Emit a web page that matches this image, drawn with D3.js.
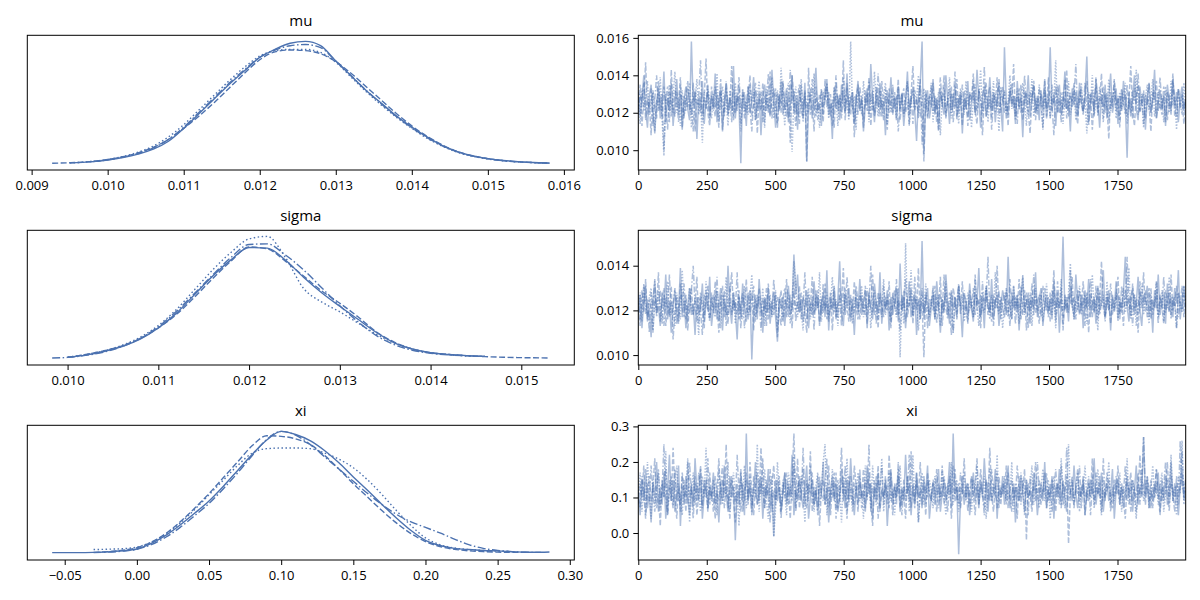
<!DOCTYPE html>
<html><head><meta charset="utf-8">
<script src="https://cdn.jsdelivr.net/npm/d3@7"></script>
<style>
body{margin:0;background:#fff}
svg{display:block}
text{font-family:'Open Sans',sans-serif;fill:#000}
</style>
</head><body>
<svg id="chart" width="1200" height="600"></svg>
<script>
// ---------- data ----------
const params = ["mu", "sigma", "xi"];
const nDraws = 2000;

// sample min / max per parameter
const muRange = [0.00927, 0.01581];
const sigmaRange = [0.00983, 0.01531];
const xiRange = [-0.0587, 0.2859];

// KDE grids and relative densities per chain (solid, dashed, dotted, dash-dot)
const muKdeX = [0.00927,0.0095,0.0098,0.0100,0.0102,0.0104,0.0106,0.0108,0.0110,0.0112,0.0114,0.0116,0.0118,0.0120,0.0122,0.0124,0.0126,0.0128,0.0130,0.0132,0.0134,0.0136,0.0138,0.0140,0.0142,0.0144,0.0146,0.0148,0.0150,0.0152,0.0154,0.0156,0.01581];
const muKde = [
 [null,0.008,0.018,0.032,0.052,0.080,0.120,0.185,0.29,0.41,0.53,0.65,0.76,0.87,0.935,0.985,1.0,0.965,0.84,0.72,0.60,0.495,0.39,0.30,0.22,0.15,0.10,0.065,0.043,0.028,0.018,0.011,0.006],
 [0.005,0.009,0.02,0.036,0.058,0.09,0.135,0.20,0.29,0.39,0.50,0.62,0.74,0.85,0.915,0.93,0.925,0.90,0.835,0.74,0.63,0.52,0.41,0.31,0.225,0.155,0.10,0.066,0.043,0.027,0.016,0.010,0.006],
 [null,0.008,0.02,0.036,0.06,0.095,0.145,0.22,0.32,0.44,0.56,0.68,0.79,0.88,0.925,0.935,0.935,0.91,0.83,0.71,0.59,0.48,0.38,0.29,0.21,0.145,0.095,0.062,0.04,0.026,0.016,0.010,0.006],
 [null,null,0.018,0.033,0.055,0.085,0.13,0.20,0.30,0.42,0.54,0.66,0.77,0.87,0.93,0.965,0.975,0.95,0.84,0.72,0.60,0.49,0.385,0.295,0.215,0.15,0.098,0.064,0.042,0.027,0.017,0.011,0.006]
];
const sigmaKdeX = [0.00983,0.0100,0.0102,0.0104,0.0106,0.0108,0.0110,0.0112,0.0114,0.0116,0.0118,0.0120,0.0122,0.0124,0.0126,0.0128,0.0130,0.0132,0.0134,0.0136,0.0138,0.0140,0.0142,0.0144,0.0146,0.0148,0.0150,0.0152,0.01531];
const sigmaKde = [
 [null,0.012,0.03,0.06,0.10,0.16,0.25,0.37,0.52,0.67,0.80,0.90,0.895,0.80,0.66,0.535,0.425,0.32,0.215,0.13,0.08,0.05,0.035,0.026,0.02,null,null,null,null],
 [null,0.014,0.035,0.065,0.105,0.165,0.25,0.36,0.50,0.65,0.79,0.905,0.89,0.79,0.67,0.55,0.45,0.34,0.22,0.135,0.08,0.05,0.035,0.025,0.018,0.013,0.01,0.008,0.007],
 [null,0.014,0.035,0.065,0.11,0.175,0.27,0.40,0.56,0.72,0.86,0.97,0.99,0.82,0.57,0.46,0.38,0.29,0.20,0.13,0.08,0.05,0.035,0.025,0.02,null,null,null,null],
 [0.007,0.012,0.028,0.055,0.10,0.165,0.26,0.385,0.53,0.68,0.82,0.925,0.93,0.84,0.72,0.575,0.43,0.30,0.19,0.115,0.07,0.045,0.032,0.025,0.02,null,null,null,null]
];
const xiKdeX = [-0.0587,-0.05,-0.04,-0.03,-0.02,-0.01,0.00,0.01,0.02,0.03,0.04,0.05,0.06,0.07,0.08,0.09,0.10,0.11,0.12,0.13,0.14,0.15,0.16,0.17,0.18,0.19,0.20,0.21,0.22,0.23,0.24,0.25,0.26,0.27,0.28,0.2859];
const xiKde = [
 [0.010,0.010,0.010,0.012,0.016,0.025,0.04,0.085,0.15,0.235,0.33,0.43,0.55,0.68,0.81,0.925,0.995,0.97,0.92,0.84,0.74,0.625,0.515,0.40,0.29,0.19,0.11,0.068,0.045,0.035,0.028,0.024,0.018,0.013,0.013,0.015],
 [null,null,null,0.012,0.018,0.03,0.05,0.095,0.165,0.26,0.37,0.49,0.62,0.75,0.88,0.96,0.955,0.935,0.89,0.80,0.69,0.57,0.46,0.35,0.25,0.165,0.10,0.06,0.037,0.025,0.018,0.014,0.012,0.012,null,null],
 [null,null,null,0.035,0.038,0.042,0.055,0.095,0.16,0.25,0.36,0.48,0.60,0.72,0.82,0.855,0.86,0.86,0.855,0.82,0.77,0.70,0.60,0.48,0.35,0.23,0.13,0.075,0.048,0.035,0.028,0.022,0.018,null,null,null],
 [null,null,null,0.010,0.014,0.022,0.038,0.075,0.135,0.215,0.31,0.41,0.53,0.66,0.80,0.93,0.995,0.965,0.89,0.79,0.69,0.59,0.49,0.40,0.32,0.26,0.215,0.17,0.12,0.075,0.045,0.028,0.018,0.013,0.012,null]
];

// trace values (thinned, evenly spaced over the 2000 draws), 4 chains each
const muTrace = [
 [0.0131,0.0118,0.0127,0.0140,0.0122,0.0112,0.0129,0.0135,0.0120,0.0109,0.0126,0.0133,0.0117,0.0124,0.0142,0.0115,0.0128,0.0121,0.0136,0.0113,
  0.0125,0.0138,0.0119,0.0130,0.0111,0.0127,0.0134,0.0122,0.0116,0.0158,0.0124,0.0131,0.0106,0.0128,0.0120,0.0137,0.0114,0.0126,0.0132,0.0118,
  0.0129,0.0123,0.0141,0.0115,0.0127,0.0133,0.0110,0.0125,0.0136,0.0119,0.0128,0.0121,0.0145,0.0117,0.0130,0.0124,0.0093,0.0132,0.0126,0.0113,
  0.0134,0.0120,0.0127,0.0139,0.0116,0.0123,0.0131,0.0108,0.0128,0.0135,0.0121,0.0125,0.0118,0.0143,0.0126,0.0112,0.0130,0.0122,0.0137,0.0119,
  0.0127,0.0133,0.0115,0.0124,0.0140,0.0120,0.0129,0.0111,0.0132,0.0126,0.0118,0.0136,0.0094,0.0123,0.0130,0.0117,0.0128,0.0144,0.0121,0.0125,
  0.0113,0.0131,0.0127,0.0138,0.0119,0.0124,0.0106,0.0133,0.0122,0.0129,0.0116,0.0135,0.0125,0.0120,0.0141,0.0118,0.0128,0.0131,0.0114,0.0126,
  0.0137,0.0121,0.0129,0.0110,0.0124,0.0133,0.0119,0.0146,0.0127,0.0115,0.0131,0.0123,0.0136,0.0118,0.0126,0.0108,0.0132,0.0124,0.0139,0.0120,
  0.0128,0.0116,0.0134,0.0122,0.0130,0.0113,0.0125,0.0142,0.0119,0.0127,0.0134,0.0121,0.0105,0.0129,0.0136,0.0158,0.0098,0.0126,0.0132,0.0117,
  0.0124,0.0138,0.0120,0.0128,0.0111,0.0133,0.0125,0.0119,0.0140,0.0127,0.0114,0.0130,0.0123,0.0135,0.0118,0.0126,0.0131,0.0109,0.0128,0.0122,
  0.0137,0.0116,0.0125,0.0132,0.0120,0.0143,0.0127,0.0112,0.0129,0.0134,0.0118,0.0124,0.0139,0.0121,0.0130,0.0115,0.0127,0.0136,0.0123,0.0110,
  0.0155,0.0126,0.0119,0.0133,0.0124,0.0129,0.0114,0.0137,0.0122,0.0128,0.0107,0.0131,0.0125,0.0140,0.0118,0.0127,0.0134,0.0120,0.0129,0.0116,
  0.0132,0.0123,0.0138,0.0117,0.0126,0.0155,0.0121,0.0130,0.0113,0.0128,0.0135,0.0119,0.0125,0.0142,0.0122,0.0127,0.0110,0.0133,0.0124,0.0131,
  0.0118,0.0136,0.0126,0.0121,0.0129,0.0150,0.0115,0.0124,0.0132,0.0119,0.0138,0.0127,0.0112,0.0130,0.0123,0.0135,0.0117,0.0128,0.0141,0.0120,
  0.0126,0.0133,0.0114,0.0129,0.0121,0.0137,0.0125,0.0096,0.0131,0.0118,0.0127,0.0140,0.0122,0.0116,0.0134,0.0124,0.0130,0.0111,0.0128,0.0136,
  0.0120,0.0127,0.0143,0.0117,0.0125,0.0132,0.0122,0.0129,0.0113,0.0135,0.0126,0.0119,0.0138,0.0124,0.0131,0.0115,0.0128,0.0134,0.0121,0.0127],
 [0.0122,0.0135,0.0113,0.0128,0.0147,0.0119,0.0126,0.0108,0.0132,0.0124,0.0117,0.0137,0.0121,0.0130,0.0100,0.0127,0.0134,0.0115,0.0143,0.0123,
  0.0118,0.0131,0.0125,0.0139,0.0112,0.0129,0.0121,0.0133,0.0126,0.0119,0.0136,0.0110,0.0127,0.0124,0.0131,0.0116,0.0128,0.0149,0.0120,0.0113,
  0.0134,0.0125,0.0118,0.0130,0.0122,0.0138,0.0111,0.0127,0.0133,0.0119,0.0124,0.0145,0.0116,0.0129,0.0121,0.0135,0.0114,0.0126,0.0131,0.0120,
  0.0127,0.0140,0.0118,0.0124,0.0132,0.0109,0.0128,0.0121,0.0136,0.0115,0.0130,0.0123,0.0142,0.0117,0.0126,0.0133,0.0112,0.0129,0.0120,0.0137,
  0.0124,0.0118,0.0131,0.0104,0.0140,0.0126,0.0113,0.0129,0.0135,0.0121,0.0117,0.0132,0.0094,0.0144,0.0119,0.0127,0.0110,0.0134,0.0122,0.0130,
  0.0126,0.0115,0.0138,0.0123,0.0131,0.0118,0.0127,0.0112,0.0136,0.0124,0.0129,0.0120,0.0148,0.0116,0.0133,0.0125,0.0119,0.0131,0.0107,0.0128,
  0.0135,0.0122,0.0127,0.0117,0.0132,0.0124,0.0139,0.0113,0.0128,0.0120,0.0134,0.0126,0.0118,0.0137,0.0123,0.0129,0.0111,0.0133,0.0125,0.0119,
  0.0131,0.0124,0.0138,0.0116,0.0127,0.0133,0.0120,0.0126,0.0114,0.0130,0.0145,0.0122,0.0128,0.0117,0.0135,0.0121,0.0094,0.0132,0.0118,0.0129,
  0.0123,0.0136,0.0119,0.0127,0.0110,0.0131,0.0125,0.0140,0.0117,0.0128,0.0122,0.0134,0.0115,0.0126,0.0138,0.0120,0.0129,0.0113,0.0132,0.0124,
  0.0118,0.0130,0.0127,0.0141,0.0121,0.0114,0.0133,0.0125,0.0108,0.0129,0.0136,0.0122,0.0127,0.0117,0.0131,0.0124,0.0139,0.0119,0.0128,0.0134,
  0.0120,0.0126,0.0113,0.0132,0.0125,0.0146,0.0118,0.0129,0.0123,0.0135,0.0116,0.0127,0.0131,0.0121,0.0109,0.0128,0.0137,0.0124,0.0119,0.0133,
  0.0126,0.0112,0.0130,0.0122,0.0139,0.0117,0.0128,0.0125,0.0134,0.0120,0.0127,0.0115,0.0131,0.0123,0.0143,0.0118,0.0129,0.0126,0.0136,0.0121,
  0.0114,0.0132,0.0125,0.0119,0.0128,0.0137,0.0122,0.0130,0.0111,0.0127,0.0134,0.0120,0.0126,0.0141,0.0117,0.0129,0.0123,0.0106,0.0131,0.0125,
  0.0138,0.0121,0.0128,0.0116,0.0133,0.0124,0.0130,0.0118,0.0127,0.0145,0.0122,0.0113,0.0129,0.0135,0.0120,0.0126,0.0132,0.0117,0.0128,0.0124,
  0.0110,0.0131,0.0127,0.0137,0.0121,0.0125,0.0119,0.0134,0.0128,0.0116,0.0130,0.0123,0.0141,0.0118,0.0126,0.0133,0.0122,0.0129,0.0114,0.0127],
 [0.0126,0.0114,0.0133,0.0121,0.0128,0.0137,0.0119,0.0125,0.0131,0.0110,0.0127,0.0122,0.0139,0.0116,0.0097,0.0130,0.0124,0.0135,0.0118,0.0129,
  0.0142,0.0120,0.0126,0.0113,0.0132,0.0117,0.0128,0.0123,0.0136,0.0112,0.0129,0.0125,0.0138,0.0119,0.0127,0.0104,0.0131,0.0122,0.0134,0.0126,
  0.0117,0.0130,0.0123,0.0141,0.0115,0.0128,0.0134,0.0120,0.0127,0.0113,0.0132,0.0125,0.0118,0.0136,0.0124,0.0129,0.0110,0.0133,0.0121,0.0127,
  0.0119,0.0135,0.0125,0.0131,0.0116,0.0128,0.0137,0.0122,0.0126,0.0112,0.0134,0.0120,0.0129,0.0139,0.0117,0.0125,0.0132,0.0121,0.0144,0.0127,
  0.0113,0.0130,0.0136,0.0123,0.0099,0.0128,0.0134,0.0119,0.0126,0.0138,0.0115,0.0131,0.0124,0.0120,0.0133,0.0127,0.0141,0.0118,0.0125,0.0112,
  0.0132,0.0123,0.0129,0.0136,0.0117,0.0126,0.0120,0.0134,0.0128,0.0113,0.0130,0.0124,0.0139,0.0121,0.0127,0.0116,0.0158,0.0122,0.0129,0.0111,
  0.0133,0.0126,0.0119,0.0137,0.0124,0.0130,0.0115,0.0128,0.0121,0.0142,0.0126,0.0118,0.0132,0.0123,0.0129,0.0136,0.0114,0.0127,0.0120,0.0131,
  0.0125,0.0117,0.0134,0.0122,0.0130,0.0119,0.0128,0.0137,0.0113,0.0126,0.0132,0.0121,0.0127,0.0140,0.0118,0.0125,0.0133,0.0120,0.0128,0.0124,
  0.0136,0.0115,0.0129,0.0122,0.0131,0.0108,0.0127,0.0134,0.0120,0.0125,0.0139,0.0117,0.0130,0.0123,0.0128,0.0114,0.0133,0.0126,0.0119,0.0137,
  0.0124,0.0130,0.0112,0.0127,0.0135,0.0121,0.0128,0.0143,0.0118,0.0126,0.0132,0.0115,0.0129,0.0123,0.0137,0.0120,0.0127,0.0110,0.0134,0.0125,
  0.0131,0.0119,0.0126,0.0140,0.0122,0.0129,0.0116,0.0133,0.0125,0.0120,0.0136,0.0127,0.0113,0.0130,0.0124,0.0138,0.0118,0.0128,0.0121,0.0135,
  0.0126,0.0111,0.0132,0.0123,0.0129,0.0117,0.0135,0.0125,0.0148,0.0120,0.0127,0.0131,0.0114,0.0128,0.0122,0.0137,0.0119,0.0126,0.0133,0.0116,
  0.0129,0.0124,0.0136,0.0120,0.0127,0.0109,0.0131,0.0125,0.0140,0.0118,0.0128,0.0122,0.0134,0.0126,0.0115,0.0130,0.0123,0.0138,0.0121,0.0127,
  0.0133,0.0117,0.0125,0.0131,0.0122,0.0128,0.0136,0.0114,0.0127,0.0120,0.0132,0.0126,0.0143,0.0119,0.0124,0.0130,0.0112,0.0128,0.0135,0.0121,
  0.0127,0.0138,0.0118,0.0125,0.0131,0.0122,0.0129,0.0115,0.0134,0.0126,0.0120,0.0137,0.0124,0.0128,0.0111,0.0132,0.0125,0.0119,0.0136,0.0123],
 [0.0119,0.0130,0.0125,0.0136,0.0116,0.0128,0.0122,0.0133,0.0113,0.0127,0.0140,0.0121,0.0129,0.0117,0.0134,0.0124,0.0111,0.0131,0.0126,0.0120,
  0.0132,0.0127,0.0115,0.0135,0.0123,0.0118,0.0130,0.0137,0.0121,0.0126,0.0110,0.0133,0.0124,0.0129,0.0148,0.0119,0.0127,0.0122,0.0135,0.0116,
  0.0129,0.0121,0.0134,0.0126,0.0112,0.0131,0.0124,0.0118,0.0137,0.0123,0.0128,0.0115,0.0133,0.0120,0.0127,0.0139,0.0122,0.0130,0.0117,0.0125,
  0.0134,0.0123,0.0110,0.0128,0.0136,0.0121,0.0126,0.0131,0.0115,0.0129,0.0124,0.0141,0.0119,0.0127,0.0133,0.0122,0.0114,0.0130,0.0125,0.0136,
  0.0121,0.0128,0.0117,0.0143,0.0125,0.0132,0.0120,0.0127,0.0114,0.0135,0.0123,0.0129,0.0118,0.0131,0.0126,0.0138,0.0121,0.0128,0.0116,0.0124,
  0.0133,0.0119,0.0127,0.0135,0.0122,0.0130,0.0113,0.0126,0.0140,0.0121,0.0128,0.0117,0.0132,0.0125,0.0136,0.0120,0.0129,0.0123,0.0115,0.0130,
  0.0119,0.0134,0.0125,0.0112,0.0128,0.0121,0.0137,0.0126,0.0132,0.0118,0.0124,0.0141,0.0122,0.0127,0.0116,0.0133,0.0128,0.0120,0.0126,0.0135,
  0.0122,0.0129,0.0110,0.0125,0.0131,0.0118,0.0127,0.0136,0.0123,0.0129,0.0114,0.0132,0.0126,0.0120,0.0138,0.0103,0.0124,0.0130,0.0117,0.0127,
  0.0134,0.0121,0.0128,0.0115,0.0126,0.0139,0.0123,0.0130,0.0118,0.0127,0.0133,0.0120,0.0125,0.0142,0.0116,0.0129,0.0124,0.0135,0.0121,0.0128,
  0.0113,0.0131,0.0126,0.0137,0.0119,0.0124,0.0132,0.0127,0.0121,0.0145,0.0118,0.0128,0.0134,0.0111,0.0126,0.0130,0.0123,0.0138,0.0120,0.0127,
  0.0132,0.0117,0.0125,0.0129,0.0136,0.0122,0.0128,0.0114,0.0133,0.0126,0.0120,0.0140,0.0124,0.0119,0.0131,0.0127,0.0135,0.0116,0.0128,0.0123,
  0.0130,0.0121,0.0137,0.0118,0.0126,0.0132,0.0124,0.0108,0.0129,0.0135,0.0120,0.0127,0.0122,0.0138,0.0117,0.0125,0.0131,0.0123,0.0129,0.0146,
  0.0119,0.0127,0.0133,0.0121,0.0136,0.0124,0.0113,0.0130,0.0126,0.0122,0.0139,0.0118,0.0128,0.0125,0.0134,0.0120,0.0131,0.0116,0.0127,0.0123,
  0.0137,0.0124,0.0129,0.0112,0.0132,0.0126,0.0119,0.0135,0.0122,0.0128,0.0117,0.0133,0.0125,0.0141,0.0121,0.0127,0.0114,0.0130,0.0124,0.0136,
  0.0120,0.0128,0.0132,0.0117,0.0126,0.0139,0.0123,0.0129,0.0115,0.0131,0.0125,0.0121,0.0137,0.0127,0.0118,0.0133,0.0124,0.0130,0.0122,0.0128]
];
const sigmaTrace = [
 [0.0118,0.0127,0.0112,0.0124,0.0131,0.0115,0.0121,0.0108,0.0125,0.0133,0.0119,0.0122,0.0113,0.0128,0.0120,0.0136,0.0116,0.0124,0.0110,0.0121,
  0.0129,0.0114,0.0120,0.0139,0.0117,0.0125,0.0112,0.0122,0.0130,0.0118,0.0123,0.0109,0.0126,0.0119,0.0121,0.0132,0.0115,0.0124,0.0120,0.0135,
  0.0113,0.0121,0.0127,0.0116,0.0123,0.0130,0.0111,0.0125,0.0118,0.0140,0.0122,0.0114,0.0128,0.0120,0.0107,0.0126,0.0117,0.0132,0.0121,0.0115,
  0.0124,0.0129,0.0098,0.0120,0.0127,0.0116,0.0134,0.0122,0.0110,0.0125,0.0119,0.0130,0.0114,0.0123,0.0128,0.0117,0.0106,0.0126,0.0121,0.0126,
  0.0113,0.0124,0.0131,0.0118,0.0122,0.0145,0.0127,0.0136,0.0119,0.0125,0.0115,0.0121,0.0129,0.0112,0.0123,0.0118,0.0133,0.0120,0.0126,0.0114,
  0.0122,0.0128,0.0117,0.0138,0.0111,0.0124,0.0120,0.0131,0.0116,0.0125,0.0142,0.0119,0.0113,0.0127,0.0122,0.0130,0.0115,0.0123,0.0109,0.0126,
  0.0120,0.0134,0.0118,0.0124,0.0129,0.0112,0.0128,0.0121,0.0116,0.0132,0.0123,0.0119,0.0137,0.0114,0.0125,0.0121,0.0129,0.0111,0.0126,0.0118,
  0.0123,0.0130,0.0115,0.0141,0.0120,0.0126,0.0112,0.0124,0.0133,0.0117,0.0122,0.0128,0.0109,0.0125,0.0119,0.0151,0.0116,0.0124,0.0130,0.0113,
  0.0121,0.0127,0.0116,0.0133,0.0122,0.0110,0.0125,0.0119,0.0136,0.0123,0.0114,0.0129,0.0120,0.0126,0.0117,0.0131,0.0122,0.0108,0.0127,0.0124,
  0.0118,0.0132,0.0121,0.0115,0.0128,0.0123,0.0139,0.0117,0.0125,0.0112,0.0130,0.0122,0.0119,0.0134,0.0116,0.0124,0.0127,0.0113,0.0121,0.0129,
  0.0125,0.0118,0.0144,0.0122,0.0116,0.0131,0.0120,0.0127,0.0111,0.0124,0.0135,0.0119,0.0123,0.0128,0.0114,0.0126,0.0121,0.0137,0.0117,0.0125,
  0.0130,0.0113,0.0122,0.0127,0.0119,0.0124,0.0116,0.0133,0.0121,0.0128,0.0110,0.0125,0.0153,0.0120,0.0126,0.0115,0.0131,0.0122,0.0118,0.0136,
  0.0124,0.0119,0.0127,0.0112,0.0129,0.0121,0.0134,0.0117,0.0123,0.0126,0.0114,0.0131,0.0120,0.0125,0.0138,0.0118,0.0122,0.0129,0.0111,0.0127,
  0.0121,0.0133,0.0116,0.0124,0.0119,0.0128,0.0144,0.0122,0.0115,0.0126,0.0130,0.0118,0.0123,0.0135,0.0120,0.0113,0.0127,0.0124,0.0131,0.0117,
  0.0125,0.0110,0.0129,0.0121,0.0136,0.0118,0.0124,0.0127,0.0114,0.0132,0.0120,0.0126,0.0117,0.0130,0.0123,0.0138,0.0116,0.0125,0.0131,0.0120],
 [0.0124,0.0113,0.0129,0.0119,0.0134,0.0116,0.0125,0.0121,0.0110,0.0127,0.0120,0.0137,0.0115,0.0124,0.0130,0.0113,0.0122,0.0118,0.0131,0.0107,
  0.0120,0.0126,0.0115,0.0132,0.0121,0.0117,0.0127,0.0111,0.0124,0.0130,0.0118,0.0123,0.0135,0.0114,0.0126,0.0120,0.0112,0.0129,0.0122,0.0116,
  0.0128,0.0119,0.0133,0.0123,0.0110,0.0125,0.0131,0.0117,0.0122,0.0114,0.0127,0.0137,0.0120,0.0124,0.0118,0.0129,0.0112,0.0126,0.0121,0.0134,
  0.0116,0.0123,0.0128,0.0111,0.0125,0.0119,0.0130,0.0122,0.0117,0.0126,0.0113,0.0132,0.0120,0.0124,0.0118,0.0127,0.0108,0.0123,0.0129,0.0115,
  0.0121,0.0134,0.0117,0.0125,0.0112,0.0128,0.0120,0.0123,0.0131,0.0116,0.0126,0.0119,0.0110,0.0127,0.0122,0.0135,0.0118,0.0124,0.0129,0.0113,
  0.0125,0.0119,0.0132,0.0116,0.0123,0.0128,0.0111,0.0126,0.0121,0.0117,0.0130,0.0124,0.0139,0.0118,0.0122,0.0115,0.0127,0.0120,0.0133,0.0121,
  0.0116,0.0127,0.0123,0.0119,0.0131,0.0114,0.0125,0.0121,0.0136,0.0118,0.0124,0.0112,0.0128,0.0122,0.0117,0.0126,0.0120,0.0133,0.0115,0.0123,
  0.0129,0.0118,0.0125,0.0111,0.0127,0.0121,0.0134,0.0117,0.0123,0.0130,0.0114,0.0126,0.0120,0.0139,0.0116,0.0124,0.0099,0.0128,0.0112,0.0125,
  0.0122,0.0131,0.0117,0.0126,0.0120,0.0135,0.0113,0.0124,0.0128,0.0119,0.0122,0.0109,0.0130,0.0125,0.0116,0.0127,0.0121,0.0133,0.0118,0.0124,
  0.0114,0.0129,0.0122,0.0117,0.0136,0.0120,0.0125,0.0112,0.0128,0.0123,0.0131,0.0118,0.0124,0.0115,0.0127,0.0121,0.0140,0.0119,0.0126,0.0122,
  0.0117,0.0130,0.0124,0.0113,0.0128,0.0121,0.0126,0.0119,0.0134,0.0116,0.0123,0.0129,0.0111,0.0125,0.0120,0.0132,0.0118,0.0127,0.0122,0.0114,
  0.0126,0.0131,0.0120,0.0124,0.0117,0.0128,0.0122,0.0138,0.0115,0.0125,0.0121,0.0130,0.0113,0.0126,0.0119,0.0127,0.0123,0.0135,0.0116,0.0124,
  0.0129,0.0118,0.0122,0.0133,0.0120,0.0126,0.0110,0.0127,0.0124,0.0119,0.0131,0.0116,0.0125,0.0142,0.0121,0.0117,0.0128,0.0123,0.0114,0.0126,
  0.0120,0.0127,0.0135,0.0118,0.0124,0.0113,0.0129,0.0122,0.0126,0.0117,0.0132,0.0121,0.0125,0.0110,0.0128,0.0123,0.0137,0.0119,0.0124,0.0130,
  0.0116,0.0125,0.0121,0.0133,0.0118,0.0127,0.0122,0.0114,0.0129,0.0124,0.0119,0.0136,0.0120,0.0126,0.0112,0.0128,0.0123,0.0131,0.0117,0.0125],
 [0.0121,0.0128,0.0115,0.0132,0.0122,0.0117,0.0126,0.0130,0.0111,0.0124,0.0119,0.0129,0.0122,0.0114,0.0127,0.0120,0.0133,0.0117,0.0124,0.0121,
  0.0113,0.0128,0.0122,0.0116,0.0138,0.0120,0.0125,0.0115,0.0130,0.0121,0.0118,0.0126,0.0120,0.0109,0.0128,0.0123,0.0118,0.0133,0.0121,0.0115,
  0.0126,0.0120,0.0117,0.0129,0.0123,0.0112,0.0127,0.0121,0.0135,0.0118,0.0124,0.0119,0.0128,0.0114,0.0122,0.0126,0.0120,0.0116,0.0131,0.0121,
  0.0118,0.0125,0.0136,0.0120,0.0115,0.0127,0.0122,0.0119,0.0130,0.0113,0.0124,0.0120,0.0127,0.0117,0.0123,0.0129,0.0111,0.0125,0.0121,0.0116,
  0.0125,0.0121,0.0128,0.0114,0.0123,0.0142,0.0132,0.0117,0.0126,0.0120,0.0111,0.0125,0.0122,0.0130,0.0116,0.0123,0.0119,0.0127,0.0121,0.0137,
  0.0115,0.0124,0.0120,0.0128,0.0117,0.0122,0.0135,0.0119,0.0125,0.0113,0.0127,0.0121,0.0118,0.0130,0.0123,0.0120,0.0126,0.0114,0.0122,0.0128,
  0.0119,0.0125,0.0131,0.0117,0.0123,0.0120,0.0127,0.0112,0.0124,0.0129,0.0121,0.0116,0.0126,0.0122,0.0134,0.0118,0.0125,0.0120,0.0115,0.0128,
  0.0122,0.0117,0.0130,0.0099,0.0125,0.0114,0.0150,0.0120,0.0124,0.0138,0.0118,0.0123,0.0126,0.0111,0.0122,0.0127,0.0119,0.0132,0.0121,0.0117,
  0.0124,0.0129,0.0116,0.0121,0.0127,0.0113,0.0125,0.0120,0.0133,0.0118,0.0123,0.0128,0.0110,0.0124,0.0119,0.0131,0.0122,0.0126,0.0115,0.0121,
  0.0128,0.0120,0.0125,0.0117,0.0134,0.0122,0.0113,0.0127,0.0121,0.0119,0.0130,0.0124,0.0116,0.0126,0.0120,0.0137,0.0123,0.0118,0.0125,0.0112,
  0.0122,0.0129,0.0119,0.0124,0.0116,0.0131,0.0121,0.0127,0.0114,0.0123,0.0136,0.0118,0.0125,0.0120,0.0128,0.0113,0.0124,0.0130,0.0119,0.0122,
  0.0127,0.0115,0.0123,0.0132,0.0120,0.0125,0.0118,0.0129,0.0112,0.0126,0.0121,0.0134,0.0117,0.0124,0.0120,0.0128,0.0141,0.0122,0.0116,0.0125,
  0.0120,0.0131,0.0118,0.0123,0.0127,0.0114,0.0125,0.0121,0.0136,0.0119,0.0124,0.0111,0.0128,0.0122,0.0126,0.0117,0.0133,0.0120,0.0125,0.0118,
  0.0123,0.0128,0.0115,0.0126,0.0121,0.0130,0.0119,0.0124,0.0139,0.0116,0.0122,0.0127,0.0113,0.0125,0.0120,0.0132,0.0118,0.0126,0.0121,0.0114,
  0.0127,0.0120,0.0124,0.0133,0.0117,0.0122,0.0129,0.0115,0.0125,0.0121,0.0135,0.0118,0.0126,0.0123,0.0112,0.0128,0.0122,0.0119,0.0131,0.0124],
 [0.0127,0.0116,0.0122,0.0131,0.0118,0.0125,0.0110,0.0128,0.0121,0.0134,0.0117,0.0123,0.0129,0.0120,0.0113,0.0126,0.0121,0.0136,0.0118,0.0123,
  0.0130,0.0120,0.0114,0.0127,0.0124,0.0132,0.0116,0.0122,0.0119,0.0129,0.0140,0.0122,0.0115,0.0126,0.0120,0.0109,0.0127,0.0123,0.0131,0.0117,
  0.0121,0.0127,0.0119,0.0135,0.0115,0.0124,0.0120,0.0129,0.0113,0.0122,0.0132,0.0118,0.0125,0.0120,0.0137,0.0116,0.0123,0.0128,0.0112,0.0121,
  0.0128,0.0118,0.0124,0.0131,0.0117,0.0122,0.0126,0.0111,0.0125,0.0120,0.0130,0.0116,0.0123,0.0118,0.0134,0.0121,0.0126,0.0119,0.0113,0.0125,
  0.0130,0.0117,0.0122,0.0127,0.0120,0.0133,0.0115,0.0124,0.0119,0.0128,0.0122,0.0137,0.0116,0.0123,0.0120,0.0126,0.0111,0.0129,0.0121,0.0125,
  0.0118,0.0132,0.0120,0.0124,0.0115,0.0127,0.0121,0.0130,0.0117,0.0123,0.0126,0.0113,0.0128,0.0120,0.0135,0.0122,0.0117,0.0125,0.0119,0.0131,
  0.0124,0.0116,0.0127,0.0121,0.0118,0.0130,0.0123,0.0140,0.0119,0.0125,0.0114,0.0128,0.0122,0.0117,0.0131,0.0120,0.0126,0.0123,0.0112,0.0127,
  0.0121,0.0134,0.0118,0.0124,0.0120,0.0129,0.0115,0.0125,0.0122,0.0128,0.0117,0.0135,0.0121,0.0124,0.0116,0.0130,0.0119,0.0126,0.0123,0.0118,
  0.0125,0.0120,0.0131,0.0114,0.0123,0.0127,0.0119,0.0136,0.0121,0.0116,0.0128,0.0122,0.0110,0.0126,0.0124,0.0132,0.0118,0.0123,0.0129,0.0120,
  0.0115,0.0125,0.0121,0.0130,0.0118,0.0126,0.0122,0.0117,0.0133,0.0120,0.0124,0.0144,0.0119,0.0127,0.0113,0.0125,0.0121,0.0129,0.0116,0.0123,
  0.0128,0.0121,0.0117,0.0134,0.0122,0.0126,0.0114,0.0125,0.0120,0.0131,0.0118,0.0123,0.0128,0.0112,0.0125,0.0121,0.0136,0.0119,0.0124,0.0127,
  0.0117,0.0123,0.0130,0.0120,0.0126,0.0115,0.0129,0.0122,0.0118,0.0133,0.0121,0.0125,0.0111,0.0127,0.0123,0.0119,0.0138,0.0122,0.0126,0.0116,
  0.0124,0.0129,0.0120,0.0126,0.0113,0.0128,0.0122,0.0134,0.0117,0.0125,0.0121,0.0130,0.0118,0.0123,0.0127,0.0115,0.0126,0.0120,0.0132,0.0122,
  0.0119,0.0125,0.0128,0.0116,0.0131,0.0121,0.0124,0.0144,0.0120,0.0126,0.0113,0.0127,0.0122,0.0118,0.0133,0.0121,0.0125,0.0129,0.0117,0.0124,
  0.0130,0.0118,0.0123,0.0127,0.0114,0.0126,0.0121,0.0135,0.0119,0.0124,0.0128,0.0116,0.0125,0.0122,0.0131,0.0117,0.0124,0.0120,0.0127,0.0121]
];
const xiTrace = [
 [0.12,0.05,0.15,0.09,0.18,0.07,0.11,0.03,0.14,0.10,0.20,0.06,0.13,0.08,0.17,0.04,0.12,0.22,0.09,0.15,
  0.06,0.11,0.19,0.02,0.13,0.08,0.16,0.10,0.05,0.14,0.07,0.21,0.12,0.09,0.18,0.04,0.11,0.15,0.07,0.13,
  0.10,0.17,0.08,0.12,0.03,0.14,0.09,0.19,0.11,0.06,0.16,0.10,0.13,-0.02,0.12,0.08,0.17,0.11,0.05,0.28,
  0.09,0.14,0.06,0.12,0.20,0.08,0.11,0.16,0.04,0.13,0.10,0.18,0.07,0.12,-0.01,0.15,0.09,0.13,0.06,0.11,
  0.17,0.08,0.14,0.10,0.22,0.05,0.12,0.09,0.16,0.11,0.07,0.13,0.19,0.04,0.10,0.15,0.08,0.12,0.06,0.14,
  0.11,0.20,0.08,0.13,0.03,0.12,0.16,0.09,0.14,0.06,0.10,0.18,0.12,0.07,0.15,0.09,0.21,0.11,0.05,0.13,
  0.08,0.16,0.10,0.12,0.06,0.19,0.11,0.14,0.04,0.13,0.09,0.17,0.07,0.12,0.10,0.15,0.02,0.11,0.18,0.08,
  0.13,0.10,0.16,0.06,0.12,0.09,0.22,0.11,0.14,0.05,0.13,0.08,0.17,0.10,0.12,0.07,0.15,0.11,0.19,0.04,
  0.10,0.14,0.08,0.13,0.18,0.06,0.11,0.15,0.09,0.12,0.20,0.07,0.28,0.11,0.13,-0.06,0.10,0.16,0.08,0.12,
  0.14,0.05,0.11,0.17,0.09,0.13,0.07,0.15,0.10,0.21,0.12,0.06,0.14,0.09,0.11,0.18,0.04,0.13,0.10,0.16,
  0.08,0.12,0.19,0.07,0.11,0.14,0.03,0.13,0.09,0.16,0.11,0.06,0.15,0.10,0.12,0.08,0.17,0.13,0.05,0.11,
  0.14,0.09,0.20,0.07,0.12,0.10,0.16,0.04,0.13,0.11,0.18,0.08,0.14,0.10,0.06,0.15,0.12,0.09,0.19,0.11,
  0.07,0.13,0.10,0.16,0.05,0.12,0.09,0.15,0.11,0.21,0.08,0.13,0.10,0.17,0.06,0.12,0.14,0.09,0.11,0.18,
  0.04,0.12,0.15,0.09,0.13,0.07,0.11,0.16,0.10,0.14,0.06,0.12,0.19,0.08,0.13,0.11,0.27,0.10,0.15,0.07,
  0.12,0.09,0.14,0.11,0.17,0.06,0.13,0.10,0.16,0.08,0.12,0.20,0.09,0.14,0.11,0.05,0.13,0.17,0.10,0.15],
 [0.08,0.14,0.10,0.19,0.05,0.12,0.16,0.09,0.13,0.21,0.07,0.11,0.02,0.15,0.10,0.18,0.06,0.13,0.09,0.24,
  0.11,0.04,0.14,0.08,0.17,0.12,0.06,0.20,0.10,0.13,0.09,0.16,0.05,0.11,0.19,0.08,0.14,0.12,0.06,0.17,
  0.10,0.13,0.04,0.12,0.21,0.08,0.15,0.11,0.25,0.07,0.12,0.16,0.09,0.03,0.14,0.10,0.18,0.06,0.12,0.15,
  0.08,0.20,0.11,0.05,0.13,0.17,0.09,0.24,0.12,0.07,0.15,0.10,0.03,0.14,0.19,0.08,0.12,0.16,0.06,0.11,
  0.17,0.09,0.13,0.04,0.15,0.28,0.10,0.21,0.07,0.12,0.18,0.08,0.14,0.11,0.23,0.06,0.13,0.09,0.16,0.02,
  0.12,0.15,0.08,0.11,0.19,0.05,0.14,0.10,0.17,0.07,0.12,0.24,0.09,0.13,0.04,0.16,0.11,0.08,0.19,0.13,
  0.06,0.14,0.10,0.18,0.07,0.12,0.17,0.09,0.02,0.15,0.11,0.19,0.06,0.13,0.10,0.16,0.08,0.22,0.12,0.05,
  0.14,0.10,0.18,0.07,0.13,0.11,0.04,0.16,0.09,0.23,0.12,0.07,0.15,0.10,0.20,0.08,0.13,0.05,0.17,0.11,
  0.09,0.15,0.12,0.06,0.14,0.10,0.19,0.08,0.13,0.11,0.16,0.04,0.12,0.18,0.09,0.14,0.07,0.11,0.21,0.10,
  0.13,0.08,0.16,0.11,0.05,0.14,0.10,0.18,0.12,0.07,0.15,0.09,0.24,0.11,0.06,0.13,0.17,0.10,0.08,0.14,
  0.11,0.19,0.07,0.12,0.15,0.09,0.13,0.04,0.16,0.10,0.12,0.18,-0.02,0.14,0.11,0.06,0.13,0.20,0.09,0.15,
  0.10,0.12,0.17,0.07,0.13,0.09,0.15,0.11,0.06,0.14,0.10,0.19,0.08,0.12,0.16,-0.03,0.11,0.14,0.07,0.13,
  0.18,0.09,0.12,0.15,0.05,0.11,0.14,0.10,0.21,0.08,0.13,0.11,0.16,0.06,0.12,0.09,0.17,0.13,0.10,0.07,
  0.15,0.11,0.19,0.08,0.13,0.10,0.04,0.14,0.12,0.17,0.09,0.13,0.06,0.11,0.22,0.10,0.14,0.08,0.16,0.12,
  0.07,0.13,0.10,0.18,0.11,0.05,0.15,0.09,0.12,0.20,0.08,0.14,0.11,0.06,0.16,0.10,0.13,0.23,0.09,0.12],
 [0.11,0.17,0.06,0.13,0.09,0.20,0.12,0.04,0.15,0.08,0.11,0.18,0.07,0.14,0.10,0.23,0.05,0.12,0.16,0.08,
  0.13,0.19,0.09,0.11,0.05,0.15,0.10,0.21,0.03,0.12,0.17,0.08,0.14,0.11,0.06,0.16,0.10,0.24,0.07,0.13,
  0.09,0.15,0.11,0.05,0.18,0.12,0.08,0.14,0.10,0.20,0.06,0.13,0.17,0.09,0.11,0.02,0.15,0.10,0.19,0.07,
  0.12,0.16,0.08,0.13,0.10,0.25,0.06,0.14,0.11,0.18,0.09,0.04,0.13,0.16,-0.01,0.07,0.20,0.12,0.08,0.15,
  0.11,0.05,0.17,0.13,0.09,0.22,0.07,0.14,0.10,0.16,0.12,0.03,0.15,0.09,0.19,0.11,0.06,0.13,0.17,0.08,
  0.12,0.20,0.25,0.05,0.14,0.09,0.18,0.11,0.07,0.15,0.12,0.03,0.16,0.10,0.21,0.08,0.13,0.06,0.14,0.11,
  0.17,0.09,0.12,0.04,0.19,0.10,0.14,0.07,0.19,0.11,0.08,0.15,0.12,0.21,0.06,0.13,0.10,0.17,0.09,0.12,
  0.05,0.14,0.11,0.19,0.08,0.13,0.10,0.16,0.06,0.12,0.22,0.09,0.14,0.03,0.11,0.17,0.08,0.13,0.10,0.15,
  0.12,0.07,0.16,0.10,0.13,0.09,0.18,0.11,0.05,0.14,0.10,0.20,0.08,0.12,0.15,0.06,0.13,0.11,0.17,0.09,
  0.14,0.10,0.06,0.15,0.12,0.19,0.08,0.13,0.11,0.16,0.04,0.12,0.18,0.09,0.14,0.10,0.22,0.07,0.13,0.11,
  0.16,0.08,0.12,0.10,0.20,0.06,0.14,0.11,0.09,0.17,0.13,0.05,0.15,0.10,0.12,0.19,0.08,0.14,0.11,0.07,
  0.13,0.18,0.09,0.12,0.15,0.04,0.11,0.16,0.10,0.14,0.08,0.21,0.12,0.07,0.13,0.25,0.10,0.15,0.09,0.12,
  0.17,0.06,0.13,0.11,0.19,0.09,0.14,0.10,0.16,0.07,0.12,0.18,0.11,0.05,0.15,0.10,0.13,0.20,0.08,0.12,
  0.09,0.14,0.11,0.17,0.06,0.13,0.10,0.21,0.08,0.12,0.15,0.10,0.04,0.14,0.11,0.18,0.09,0.13,0.16,0.07,
  0.12,0.19,0.10,0.14,0.08,0.13,0.17,0.06,0.11,0.15,0.10,0.22,0.09,0.13,0.05,0.16,0.11,0.26,0.08,0.12],
 [0.10,0.07,0.16,0.12,0.04,0.14,0.09,0.19,0.11,0.06,0.13,0.17,0.08,0.12,0.25,0.10,0.05,0.15,0.11,0.07,
  0.18,0.09,0.13,0.06,0.16,0.10,0.12,0.08,0.20,0.11,0.04,0.14,0.09,0.17,0.12,0.07,0.15,0.10,0.21,0.08,
  0.12,0.06,0.16,0.11,0.09,0.14,0.19,0.07,0.13,0.10,0.04,0.15,0.12,0.08,0.22,0.11,0.06,0.14,0.09,0.17,
  0.10,0.13,0.05,0.16,0.12,0.08,0.15,0.11,0.21,0.07,0.13,0.10,0.18,0.06,0.12,0.09,0.15,0.11,0.04,0.14,
  0.10,0.17,0.08,0.13,0.11,0.19,0.06,0.12,0.15,0.09,0.24,0.10,0.07,0.14,0.11,0.17,0.08,0.13,0.05,0.16,
  0.11,0.09,0.14,0.21,0.07,0.12,0.10,0.17,0.04,0.13,0.09,0.15,0.11,0.19,0.06,0.12,0.16,0.10,0.08,0.14,
  0.12,0.18,0.07,0.11,0.15,0.09,0.25,0.06,0.13,0.10,0.16,0.04,0.12,0.19,0.08,0.14,0.11,0.07,0.17,0.10,
  0.13,0.08,0.20,0.11,0.05,0.15,0.09,0.12,0.22,0.07,0.14,0.10,0.17,0.03,0.13,0.11,0.16,0.08,0.15,0.12,
  0.09,0.14,0.11,0.18,0.07,0.13,0.10,0.16,0.12,0.06,0.15,0.11,0.19,0.09,0.13,0.08,0.17,0.12,0.10,0.14,
  0.06,0.12,0.16,0.10,0.13,0.21,0.08,0.14,0.11,0.05,0.15,0.12,0.09,0.18,0.11,0.13,0.07,0.16,0.10,0.12,
  0.14,0.09,0.17,0.11,0.06,0.13,0.10,0.19,0.12,0.08,0.15,0.11,0.13,0.05,0.16,0.10,0.14,0.09,0.20,0.12,
  0.08,0.13,0.11,0.17,0.09,0.14,0.06,0.12,0.18,0.10,0.13,0.07,0.15,0.11,0.24,0.09,0.12,0.16,0.08,0.13,
  0.11,0.19,0.07,0.14,0.10,0.12,0.16,0.05,0.13,0.09,0.17,0.11,0.14,0.08,0.21,0.10,0.12,0.15,0.06,0.13,
  0.10,0.16,0.12,0.08,0.14,0.11,0.19,0.09,0.13,0.06,0.15,0.12,0.10,0.17,0.08,0.14,0.27,0.11,0.13,0.09,
  0.15,0.07,0.12,0.18,0.10,0.14,0.09,0.13,0.20,0.11,0.06,0.16,0.12,0.10,0.14,0.08,0.26,0.13,0.11,0.15]
];

// tick labels
const muKdeTicks = [0.009,0.010,0.011,0.012,0.013,0.014,0.015,0.016];
const sigmaKdeTicks = [0.010,0.011,0.012,0.013,0.014,0.015];
const xiKdeTicks = [-0.05,0.00,0.05,0.10,0.15,0.20,0.25,0.30];
const muTraceTicks = [0.010,0.012,0.014,0.016];
const sigmaTraceTicks = [0.010,0.012,0.014];
const xiTraceTicks = [0.0,0.1,0.2,0.3];
const drawTicks = [0,250,500,750,1000,1250,1500,1750];

// ---------- drawing ----------
const color = "#4c72b0";
const dashes = [null, "6,2.5", "1.5,2.5", "8,2.5,1.5,2.5"];
const traceDashes = [null, "5,2", "1.5,1.5", "6,2,1.5,2"];
const svg = d3.select("#chart");
const leftX = [27.3, 574.3], rightX = [638.3, 1185.7];
const rowTops = [35.3, 230.3, 425.3], rowH = 134.7;

const panels = [
 {name: params[0], range: muRange, kdeX: muKdeX, kde: muKde, trace: muTrace, kt: muKdeTicks, kf: ".3f", tt: muTraceTicks, tf: ".3f"},
 {name: params[1], range: sigmaRange, kdeX: sigmaKdeX, kde: sigmaKde, trace: sigmaTrace, kt: sigmaKdeTicks, kf: ".3f", tt: sigmaTraceTicks, tf: ".3f"},
 {name: params[2], range: xiRange, kdeX: xiKdeX, kde: xiKde, trace: xiTrace, kt: xiKdeTicks, kf: ".2f", tt: xiTraceTicks, tf: ".1f"}
];

const defs = svg.append("defs");

function styleAxis(g) {
  g.select(".domain").remove();
  g.selectAll(".tick line").attr("stroke", "#000").attr("stroke-width", 1);
  g.selectAll(".tick text").attr("font-size", 13).attr("fill", "#000");
}

panels.forEach((p, r) => {
  const top = rowTops[r], bot = top + rowH;
  const pad = (p.range[1] - p.range[0]) * 0.05;
  const dom = [p.range[0] - pad, p.range[1] + pad];

  // ---- KDE panel ----
  const x = d3.scaleLinear().domain(dom).range(leftX);
  const maxD = d3.max(p.kde.flat().filter(v => v != null));
  const y = d3.scaleLinear().domain([-0.05 * maxD, 1.05 * maxD]).range([bot, top]);
  const gk = svg.append("g");
  const line = d3.line()
    .defined(d => d[1] != null)
    .x(d => x(d[0])).y(d => y(d[1]))
    .curve(d3.curveMonotoneX);
  p.kde.forEach((dens, c) => {
    gk.append("path")
      .attr("d", line(p.kdeX.map((v, i) => [v, dens[i]])))
      .attr("fill", "none").attr("stroke", color).attr("stroke-width", 1.4)
      .attr("stroke-dasharray", dashes[c]);
  });
  gk.append("rect").attr("x", leftX[0]).attr("y", top)
    .attr("width", leftX[1] - leftX[0]).attr("height", rowH)
    .attr("fill", "none").attr("stroke", "#000").attr("stroke-width", 1);
  const ax = svg.append("g").attr("transform", `translate(0,${bot})`)
    .call(d3.axisBottom(x).tickValues(p.kt).tickFormat(d3.format(p.kf)).tickSize(5).tickPadding(6));
  styleAxis(ax);
  svg.append("text").attr("x", (leftX[0] + leftX[1]) / 2).attr("y", top - 9)
    .attr("text-anchor", "middle").attr("font-size", 15).text(p.name);

  // ---- trace panel ----
  const tx = d3.scaleLinear().domain([0, nDraws - 1]).range(rightX);
  const ty = d3.scaleLinear().domain(dom).range([bot, top]);
  const clipId = "clip" + r;
  defs.append("clipPath").attr("id", clipId).append("rect")
    .attr("x", rightX[0]).attr("y", top).attr("width", rightX[1] - rightX[0]).attr("height", rowH);
  const gt = svg.append("g").attr("clip-path", `url(#${clipId})`);
  p.trace.forEach((vals, c) => {
    const step = (nDraws - 1) / (vals.length - 1);
    const tl = d3.line().x((d, i) => tx(i * step)).y(d => ty(d));
    gt.append("path").attr("d", tl(vals))
      .attr("fill", "none").attr("stroke", color).attr("stroke-width", 1.5)
      .attr("stroke-opacity", 0.45).attr("stroke-dasharray", traceDashes[c]);
  });
  svg.append("rect").attr("x", rightX[0]).attr("y", top)
    .attr("width", rightX[1] - rightX[0]).attr("height", rowH)
    .attr("fill", "none").attr("stroke", "#000").attr("stroke-width", 1);
  const bx = svg.append("g").attr("transform", `translate(0,${bot})`)
    .call(d3.axisBottom(tx).tickValues(drawTicks).tickFormat(d3.format("d")).tickSize(5).tickPadding(6));
  styleAxis(bx);
  const by = svg.append("g").attr("transform", `translate(${rightX[0]},0)`)
    .call(d3.axisLeft(ty).tickValues(p.tt).tickFormat(d3.format(p.tf)).tickSize(5).tickPadding(4));
  styleAxis(by);
  svg.append("text").attr("x", (rightX[0] + rightX[1]) / 2).attr("y", top - 9)
    .attr("text-anchor", "middle").attr("font-size", 15).text(p.name);
});
</script>
</body></html>
